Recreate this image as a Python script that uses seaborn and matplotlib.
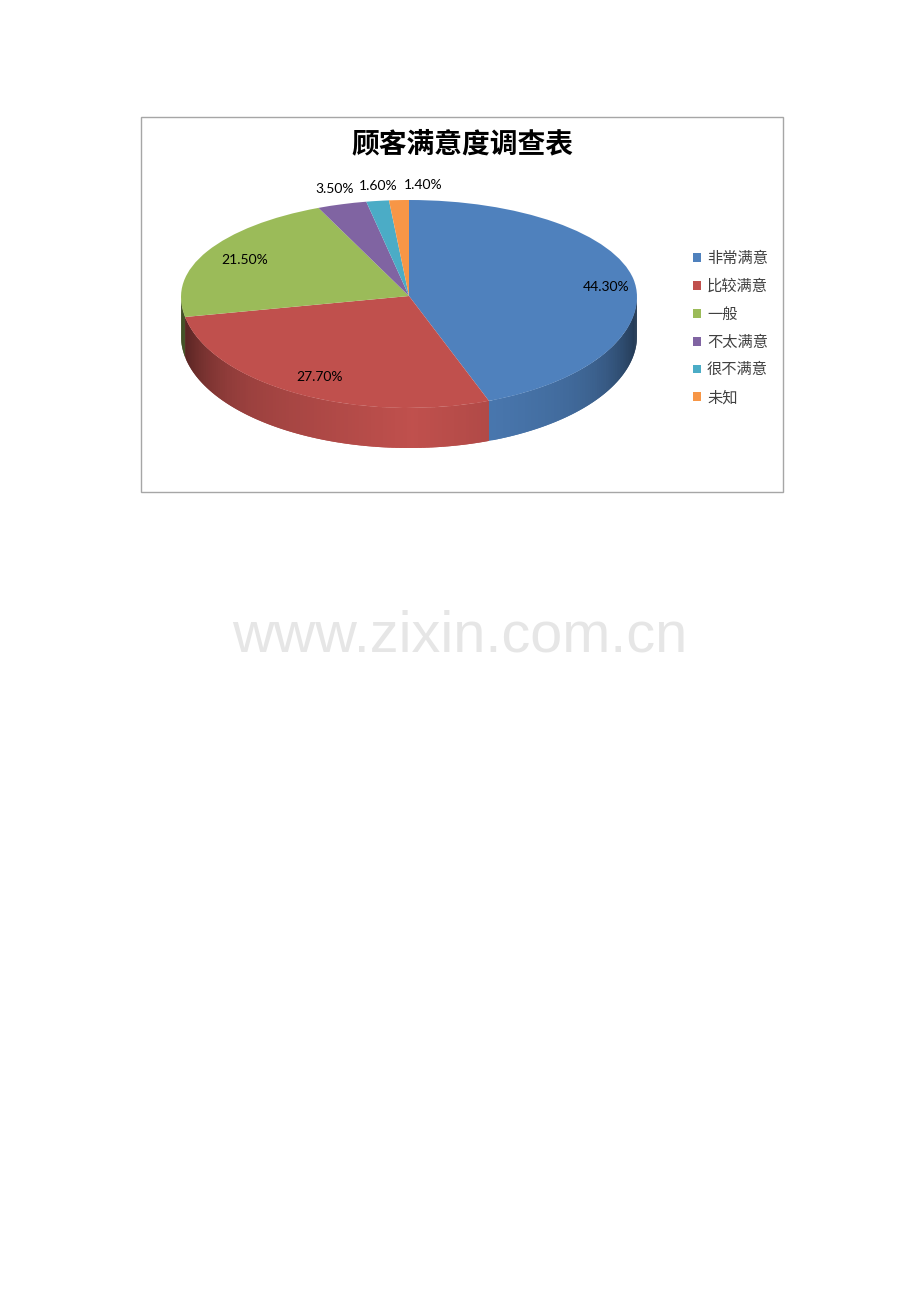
import numpy as np
import matplotlib
matplotlib.use("Agg")
import matplotlib.pyplot as plt
import seaborn as sns
from matplotlib.patches import Rectangle

# chart data
categories = ["非常满意", "比较满意", "一般", "不太满意", "很不满意", "未知"]
shares = [44.3, 27.7, 21.5, 3.5, 1.6, 1.4]
colors = ["#4F81BD", "#C0504D", "#9BBB59", "#8064A2", "#4BACC6", "#F79646"]
title = "顾客满意度调查表"
watermark = "www.zixin.com.cn"

W, H = 920, 1302
CX, CY = 409, 296     # pie centre in pixels
RX, RY_UP, RY_DOWN = 228, 96, 112   # tilted top face, near side looks bigger
DEPTH = 40

sns.set_theme(style="white")
palette = sns.color_palette(colors)
cjk = ["Noto Sans CJK SC", "DejaVu Sans"]
plt.rcParams["font.family"] = ["Lato", "Noto Sans CJK SC", "DejaVu Sans"]


def fx(x):
    return x / W


def fy(y):
    return 1 - y / H


# y scale: unit circle to pixels, squeezed differently above and below the centre
def forward(y):
    y = np.asarray(y, dtype=float)
    return np.where(y >= 0, y * RY_UP, y * RY_DOWN)


def inverse(v):
    v = np.asarray(v, dtype=float)
    return np.where(v >= 0, v / RY_UP, v / RY_DOWN)


fig = plt.figure(figsize=(W / 100, H / 100), dpi=100, facecolor="white")
ax = fig.add_axes([0, 0, 1, 1])

wedges, _ = ax.pie(shares, colors=palette, startangle=90, counterclock=False,
                   radius=1, wedgeprops={"linewidth": 0}, normalize=True)
for w in wedges:
    w.set_zorder(3)

ax.set_aspect("auto")
ax.set_yscale("function", functions=(forward, inverse))
ax.set_xlim(-CX / RX, (W - CX) / RX)
ax.set_ylim(-(H - CY) / RY_DOWN, CY / RY_UP)
ax.axis("off")

# side wall: strips along the near half, darker towards both ends.
# each strip also covers the previous one so no seams show through
edges = np.cumsum([0] + shares) / sum(shares) * 360
depth_units = DEPTH / RY_DOWN
for i, col in enumerate(palette):
    a0, a1 = max(edges[i], 90), min(edges[i + 1], 270)
    if a1 <= a0:
        continue
    n = max(int(a1 - a0), 2)
    angs = np.radians(np.linspace(a0, a1, n + 1))
    for j in range(n):
        start = angs[max(j - 1, 0)]
        seg = np.linspace(start, angs[j + 1], 7)
        xs = np.sin(seg)
        ys = np.cos(seg)
        mid = abs(np.sin((angs[j] + angs[j + 1]) / 2))
        shade = 1 - 0.24 * mid - 0.34 * mid ** 8
        c = tuple(v * shade for v in col)
        order = np.argsort(xs)
        ax.fill_between(xs[order], ys[order], ys[order] - depth_units,
                        facecolor=c, edgecolor="none", linewidth=0, zorder=1)

# chart frame
fig.add_artist(Rectangle((fx(141), fy(491.5)), fx(642), 375 / H, transform=fig.transFigure,
                         fill=False, edgecolor="#a6a6a6", linewidth=1.0))

fig.text(fx(462), fy(144.5), title, family=cjk, fontsize=20, fontweight="bold",
         color="black", ha="center", va="center")

# data labels
label_pos = [(606, 287), (319.5, 377), (244.5, 260), (334.5, 189), (378.5, 186), (423, 185)]
for v, (lx, ly) in zip(shares, label_pos):
    fig.text(fx(lx), fy(ly), f"{v:.2f}%", fontsize=10, color="black",
             ha="center", va="center", zorder=5)

leg = ax.legend(wedges, categories, loc="upper left", bbox_to_anchor=(fx(693), fy(250)),
                bbox_transform=fig.transFigure, frameon=False,
                handlelength=0.52, handleheight=0.52, handletextpad=0.4,
                labelspacing=0.71, borderpad=0, borderaxespad=0,
                prop={"family": cjk, "size": 11})
for t in leg.get_texts():
    t.set_color("#404040")

fig.text(fx(460), fy(636.5), watermark, family="Liberation Sans", fontsize=41.5,
         color="#e6e6e6", ha="center", va="center")

fig.savefig("out.png", dpi=100, facecolor="white")
